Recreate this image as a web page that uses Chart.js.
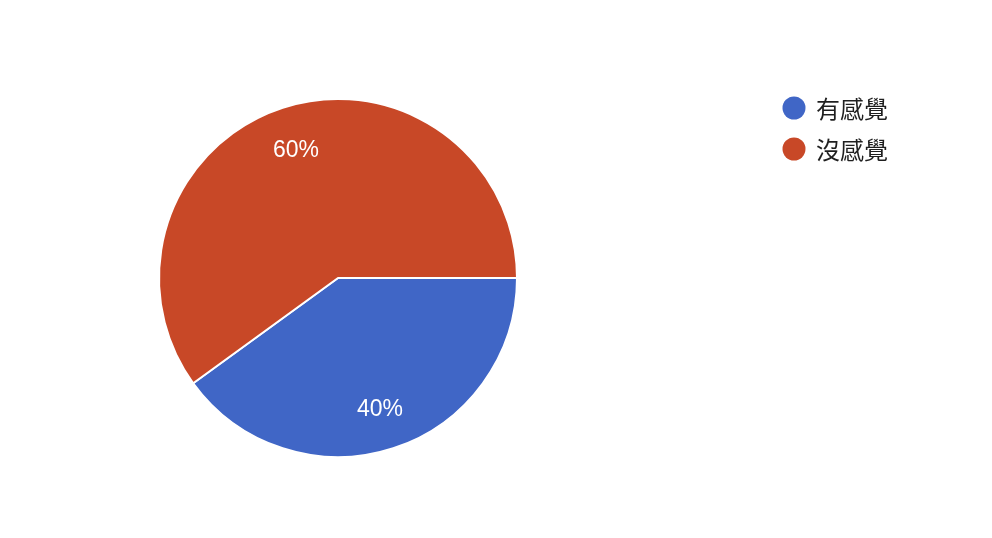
<!DOCTYPE html>
<html><head><meta charset="utf-8">
<script src="https://cdn.jsdelivr.net/npm/chart.js@4"></script>
<style>html,body{margin:0;padding:0;background:#fff}#wrap{width:992px;height:538px}</style>
</head><body><div id="wrap"><canvas id="c" width="992" height="538"></canvas></div>
<script>
const categories = ['有感覺', '沒感覺'];
const values = [40, 60];
const colors = ['#4066C6', '#C84827'];

const labelPlugin = {
  id: 'pctLabels',
  afterDatasetsDraw(chart) {
    const ctx = chart.ctx;
    const meta = chart.getDatasetMeta(0);
    const total = values.reduce((a, b) => a + b, 0);
    ctx.save();
    ctx.fillStyle = '#ffffff';
    ctx.font = '23px "Liberation Sans", Arial, sans-serif';
    ctx.textAlign = 'center';
    ctx.textBaseline = 'middle';
    meta.data.forEach((arc, i) => {
      const p = arc.getProps(['x', 'y', 'startAngle', 'endAngle', 'outerRadius']);
      const mid = (p.startAngle + p.endAngle) / 2;
      const r = p.outerRadius * 0.76;
      ctx.fillText(Math.round(values[i] / total * 100) + '%', p.x + Math.cos(mid) * r, p.y + Math.sin(mid) * r + 2);
    });
    ctx.restore();
  }
};

const legendPlugin = {
  id: 'sideLegend',
  afterDraw(chart) {
    const ctx = chart.ctx;
    ctx.save();
    categories.forEach((name, i) => {
      const y = 108 + i * 41;
      ctx.fillStyle = colors[i];
      ctx.beginPath();
      ctx.arc(794, y, 11.5, 0, Math.PI * 2);
      ctx.fill();
      ctx.fillStyle = '#1f1f1f';
      ctx.font = '24px "Noto Sans CJK TC", sans-serif';
      ctx.textAlign = 'left';
      ctx.textBaseline = 'middle';
      ctx.fillText(name, 816, y + 1);
    });
    ctx.restore();
  }
};

new Chart(document.getElementById('c'), {
  type: 'pie',
  data: {
    labels: categories,
    datasets: [{
      data: values,
      backgroundColor: colors,
      borderColor: '#ffffff',
      borderWidth: 2
    }]
  },
  options: {
    responsive: false,
    animation: false,
    rotation: 90,
    layout: { padding: { left: 158, right: 474, top: 98, bottom: 80 } },
    plugins: { legend: { display: false }, tooltip: { enabled: false } }
  },
  plugins: [labelPlugin, legendPlugin]
});
</script></body></html>
